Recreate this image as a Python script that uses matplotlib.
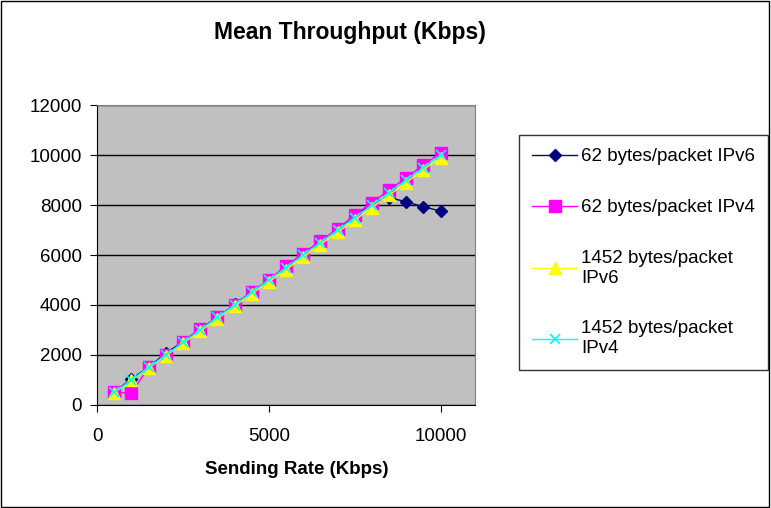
import matplotlib.pyplot as plt
from matplotlib.patches import Rectangle

rate = [500, 1000, 1500, 2000, 2500, 3000, 3500, 4000, 4500, 5000,
        5500, 6000, 6500, 7000, 7500, 8000, 8500, 9000, 9500, 10000]
ipv6_62 = [500, 1050, 1500, 2080, 2520, 3050, 3500, 4020, 4520, 5000,
           5550, 6050, 6550, 7030, 7550, 8050, 8300, 8130, 7930, 7760]
ipv4_62 = [500, 480, 1500, 2000, 2500, 3050, 3500, 4000, 4500, 5000,
           5550, 6050, 6550, 7050, 7600, 8100, 8600, 9100, 9600, 10100]
ipv6_1452 = [490, 980, 1480, 1970, 2470, 2950, 3450, 3950, 4450, 4930,
             5420, 5920, 6420, 6920, 7400, 7900, 8400, 8900, 9420, 9900]
ipv4_1452 = [500, 1000, 1500, 2000, 2500, 3000, 3500, 4000, 4500, 5000,
             5500, 6000, 6500, 7000, 7500, 8000, 8500, 9000, 9500, 10000]
labels = ["62 bytes/packet IPv6", "62 bytes/packet IPv4",
          "1452 bytes/packet\nIPv6", "1452 bytes/packet\nIPv4"]

plt.rcParams['font.family'] = ['Liberation Sans', 'DejaVu Sans']

fig = plt.figure(figsize=(7.71, 5.08), dpi=100)
fig.patches.append(Rectangle((0.001, 0.001), 0.997, 0.997, transform=fig.transFigure,
                             fill=False, edgecolor='black', linewidth=1))
ax = fig.add_axes([0.126, 0.203, 0.49, 0.59])
ax.set_facecolor('#C0C0C0')

ax.plot(rate, ipv6_62, color='#000080', marker='D', markersize=6, lw=1, label=labels[0])
ax.plot(rate, ipv4_62, color='#FF00FF', marker='s', markersize=8, lw=1, label=labels[1])
ax.plot(rate, ipv6_1452, color='#FFFF00', marker='^', markersize=8, lw=1, label=labels[2])
ax.plot(rate, ipv4_1452, color='#00FFFF', marker='x', markersize=7, mew=1.2, lw=1, label=labels[3])

ax.set_xlim(0, 11000)
ax.set_ylim(0, 12000)
ax.set_xticks([0, 5000, 10000])
ax.set_yticks(range(0, 12001, 2000))
ax.yaxis.grid(True, color='black', linewidth=1)
ax.set_axisbelow(True)
for s in ax.spines.values():
    s.set_color('#808080')
ax.spines['left'].set_color('black')
ax.spines['bottom'].set_color('black')
ax.tick_params(labelsize=13.5, direction='out', length=5)
ax.tick_params(axis='x', pad=12)
ax.tick_params(axis='y', pad=6)

fig.text(0.454, 0.937, "Mean Throughput (Kbps)", fontsize=16.5, fontweight='bold',
         ha='center', va='center')
fig.text(0.385, 0.075, "Sending Rate (Kbps)", fontsize=13.5, fontweight='bold',
         ha='center', va='center')

leg = fig.legend(loc='upper left', bbox_to_anchor=(0.673, 0.734), fontsize=13.5,
                 frameon=True, fancybox=False, edgecolor='black', labelspacing=1.8,
                 handlelength=2.4, handletextpad=0.2, borderpad=0.7, borderaxespad=0)
leg.get_frame().set_linewidth(1)

fig.savefig("out.png", dpi=100)
